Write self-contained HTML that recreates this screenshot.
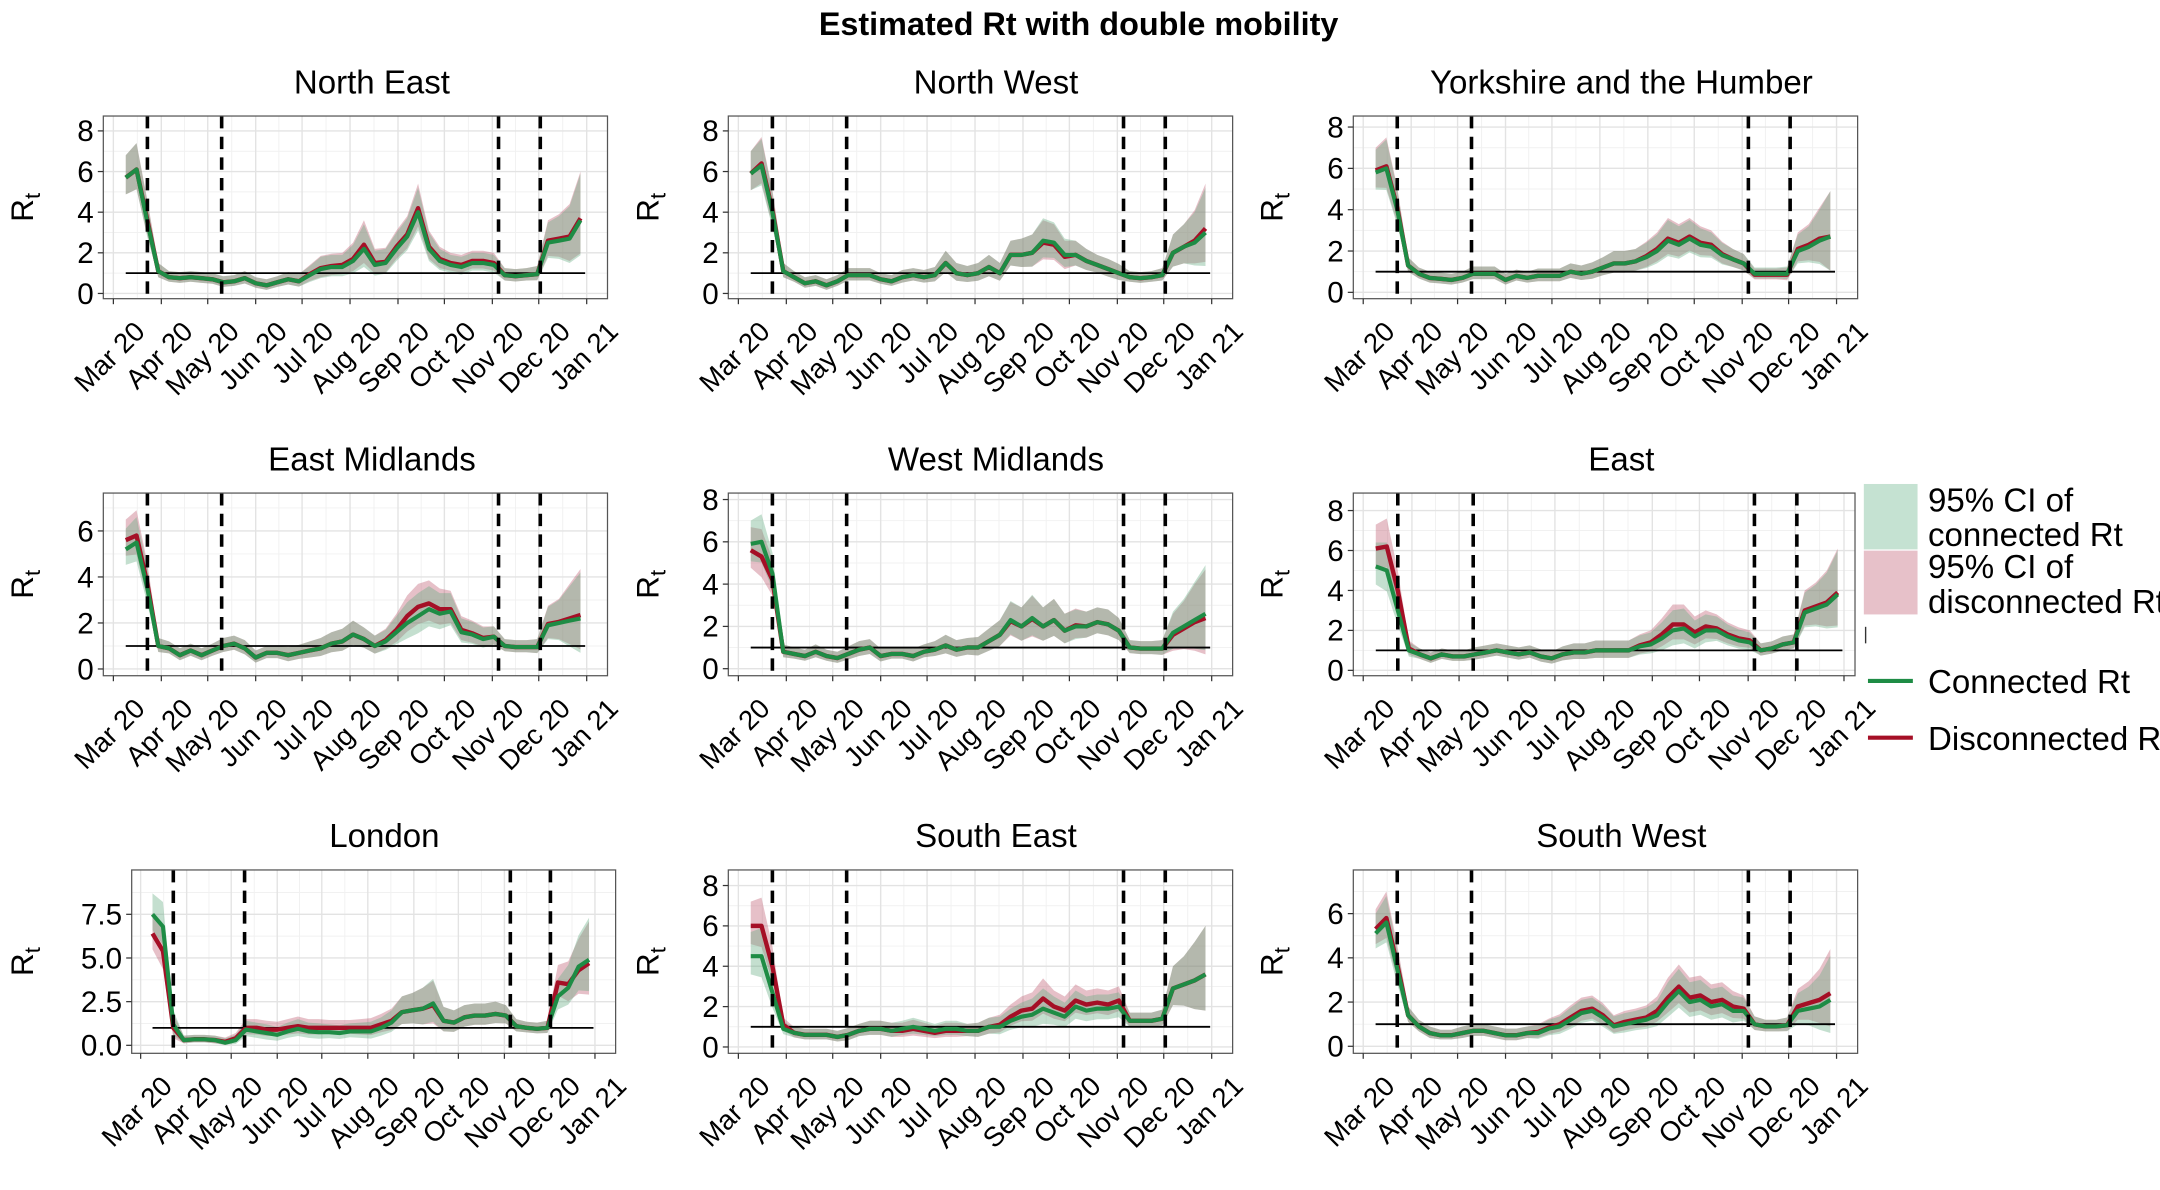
<!DOCTYPE html>
<html><head><meta charset="utf-8"><title>Estimated Rt with double mobility</title>
<style>
html,body{margin:0;padding:0;background:#fff;}
svg{display:block;font-family:"Liberation Sans",Arial,sans-serif;}
</style></head>
<body>
<svg id="chart" xmlns="http://www.w3.org/2000/svg" width="2160" height="1190" viewBox="0 0 1568 863.8">
<rect x="0" y="0" width="1568" height="863.8" fill="#fff"/>
<text x="783" y="25.4" text-anchor="middle" font-weight="bold" font-size="23.5">Estimated Rt with double mobility</text>
<g id="panels"></g>
<g id="legend">
  <rect x="1353" y="351.3" width="39" height="47.5" fill="#c5e2d2"/>
  <rect x="1353" y="399.7" width="39" height="46.3" fill="#e7c1c9"/>
  <text x="1399.6" y="371.4" font-size="24">95% CI of</text>
  <text x="1399.6" y="396.3" font-size="24">connected Rt</text>
  <text x="1399.6" y="419.6" font-size="24">95% CI of</text>
  <text x="1399.6" y="445" font-size="24">disconnected Rt</text>
  <line x1="1354.3" y1="455" x2="1354.3" y2="467" stroke="#333" stroke-width="1"/>
  <line x1="1356" y1="494.3" x2="1388.6" y2="494.3" stroke="#1e8c45" stroke-width="3"/>
  <text x="1399.6" y="503" font-size="24">Connected Rt</text>
  <line x1="1356" y1="535.5" x2="1388.6" y2="535.5" stroke="#a50f26" stroke-width="3"/>
  <text x="1399.6" y="544.4" font-size="24">Disconnected Rt</text>
</g>
</svg>
<script>
// ---- data ----
const weekDays = [8,15,22,29,36,43,50,57,64,71,78,85,92,99,106,113,120,127,134,141,148,155,162,169,176,183,190,197,204,211,218,225,232,239,246,253,260,267,274,281,288,295,302];
const monthLabels = ["Mar 20","Apr 20","May 20","Jun 20","Jul 20","Aug 20","Sep 20","Oct 20","Nov 20","Dec 20","Jan 21"];
const monthDays = [0,31,61,92,122,153,184,214,245,275,306];
const interventionDays = [22,70,249,276];
const thresholdValue = 1;
const thresholdDays = [8,305];

const ticksStd = [0,2,4,6,8];
const ticksSix = [0,2,4,6];
const ticksLondon = [0,2.5,5,7.5];
const tickLabelsLondon = ["0.0","2.5","5.0","7.5"];

const neConn = [5.7,6.1,3.5,1.1,0.8,0.75,0.8,0.75,0.7,0.55,0.6,0.75,0.5,0.4,0.55,0.7,0.6,0.9,1.2,1.3,1.3,1.6,2.2,1.4,1.5,2.2,2.8,4.0,2.2,1.6,1.4,1.3,1.5,1.5,1.4,0.9,0.85,0.9,0.95,2.5,2.6,2.7,3.6];
const neDisc = [5.7,6.1,3.6,1.1,0.8,0.75,0.8,0.75,0.7,0.55,0.6,0.75,0.5,0.4,0.55,0.7,0.6,0.95,1.25,1.35,1.4,1.7,2.4,1.5,1.55,2.3,2.9,4.2,2.3,1.7,1.5,1.4,1.6,1.6,1.5,0.9,0.85,0.9,0.95,2.6,2.7,2.8,3.7];
const neCi = [1.1,1.3,1.0,0.4,0.3,0.3,0.3,0.3,0.3,0.3,0.3,0.35,0.3,0.3,0.3,0.35,0.35,0.45,0.6,0.6,0.6,0.8,1.2,0.7,0.7,0.8,0.9,1.2,0.8,0.6,0.5,0.5,0.5,0.5,0.5,0.35,0.35,0.35,0.4,1.0,1.2,1.6,2.3];

const nwConn = [5.9,6.3,4.0,1.1,0.8,0.5,0.6,0.4,0.6,0.9,0.9,0.9,0.7,0.6,0.8,0.9,0.8,0.9,1.5,1.0,0.9,1.0,1.3,1.0,1.9,1.9,2.0,2.6,2.5,1.9,1.9,1.6,1.4,1.2,1.0,0.8,0.75,0.8,0.9,2.0,2.3,2.5,3.0];
const nwDisc = [5.9,6.4,4.1,1.1,0.8,0.5,0.6,0.4,0.6,0.9,0.9,0.9,0.7,0.6,0.8,0.9,0.8,0.9,1.5,1.0,0.9,1.0,1.3,1.0,1.9,1.9,2.0,2.5,2.4,1.8,1.9,1.6,1.4,1.2,1.0,0.8,0.75,0.8,0.9,2.0,2.3,2.6,3.2];
const nwCi = [1.1,1.3,1.0,0.4,0.3,0.3,0.3,0.3,0.3,0.35,0.35,0.35,0.3,0.3,0.35,0.35,0.35,0.4,0.6,0.5,0.45,0.5,0.6,0.5,0.7,0.8,0.9,1.1,1.0,0.8,0.7,0.6,0.5,0.5,0.45,0.3,0.3,0.3,0.35,0.9,1.1,1.5,2.2];

const yhConn = [5.8,6.0,4.0,1.3,0.9,0.7,0.65,0.6,0.7,0.9,0.9,0.9,0.6,0.8,0.7,0.8,0.8,0.8,1.0,0.9,1.0,1.2,1.4,1.4,1.5,1.7,2.0,2.5,2.3,2.6,2.3,2.2,1.8,1.6,1.4,0.9,0.9,0.9,0.9,2.0,2.2,2.5,2.7];
const yhDisc = [5.9,6.1,4.1,1.3,0.9,0.7,0.65,0.6,0.7,0.9,0.9,0.9,0.6,0.8,0.7,0.8,0.8,0.8,1.0,0.9,1.0,1.2,1.4,1.4,1.5,1.75,2.1,2.6,2.4,2.7,2.4,2.3,1.85,1.6,1.4,0.85,0.85,0.85,0.85,2.1,2.3,2.6,2.7];
const yhCi = [1.1,1.4,1.0,0.4,0.3,0.3,0.3,0.3,0.3,0.35,0.35,0.35,0.3,0.3,0.3,0.35,0.35,0.35,0.4,0.4,0.45,0.5,0.6,0.6,0.6,0.7,0.8,1.0,0.9,0.9,0.8,0.7,0.6,0.5,0.45,0.3,0.3,0.3,0.35,0.8,1.0,1.5,2.2];

const emConn = [5.2,5.5,3.5,1.0,0.9,0.6,0.8,0.6,0.8,1.0,1.1,0.9,0.5,0.7,0.7,0.6,0.7,0.8,0.9,1.1,1.2,1.5,1.3,1.0,1.2,1.6,2.0,2.3,2.6,2.4,2.5,1.6,1.5,1.3,1.4,1.0,0.95,0.95,0.95,1.9,2.0,2.1,2.2];
const emDisc = [5.6,5.8,3.7,1.0,0.9,0.6,0.8,0.6,0.8,1.0,1.1,0.9,0.5,0.7,0.7,0.6,0.7,0.8,0.9,1.1,1.2,1.5,1.3,1.0,1.25,1.7,2.3,2.7,2.85,2.6,2.6,1.7,1.55,1.35,1.4,1.0,0.95,0.95,0.95,1.95,2.05,2.2,2.35];
const emCi = [0.9,1.1,0.9,0.35,0.3,0.3,0.3,0.3,0.3,0.35,0.35,0.35,0.3,0.3,0.3,0.35,0.35,0.4,0.45,0.5,0.55,0.6,0.5,0.45,0.5,0.7,0.9,1.0,1.0,0.9,0.8,0.6,0.55,0.5,0.45,0.3,0.3,0.3,0.35,0.8,1.0,1.5,2.0];

const wmConn = [5.9,6.0,4.5,0.8,0.7,0.6,0.8,0.6,0.5,0.7,0.9,1.0,0.6,0.7,0.7,0.6,0.8,0.9,1.1,0.9,1.0,1.0,1.3,1.6,2.3,2.0,2.4,2.0,2.3,1.8,2.0,2.0,2.2,2.1,1.8,1.0,0.95,0.95,0.95,1.7,2.0,2.3,2.6];
const wmDisc = [5.6,5.3,4.2,0.8,0.7,0.6,0.8,0.6,0.5,0.7,0.9,1.0,0.6,0.7,0.7,0.6,0.8,0.9,1.1,0.9,1.0,1.0,1.3,1.6,2.25,2.0,2.35,2.0,2.3,1.8,2.05,2.0,2.2,2.1,1.8,1.0,0.95,0.95,0.95,1.6,1.9,2.2,2.4];
const wmCi = [1.1,1.3,1.0,0.35,0.3,0.3,0.35,0.3,0.3,0.35,0.4,0.4,0.35,0.3,0.3,0.35,0.35,0.4,0.5,0.45,0.45,0.5,0.6,0.7,0.9,0.9,1.1,0.9,1.0,0.8,0.8,0.7,0.7,0.7,0.6,0.35,0.35,0.35,0.4,1.0,1.3,1.8,2.3];

const eaConn = [5.2,5.0,3.0,1.0,0.8,0.6,0.8,0.7,0.7,0.8,0.9,1.0,0.9,0.8,0.9,0.7,0.6,0.8,0.9,0.9,1.0,1.0,1.0,1.0,1.2,1.3,1.6,2.0,2.1,1.7,2.0,2.0,1.7,1.5,1.4,1.0,1.1,1.3,1.4,2.9,3.1,3.3,3.8];
const eaDisc = [6.1,6.2,4.0,1.1,0.8,0.6,0.8,0.7,0.7,0.8,0.9,1.0,0.9,0.8,0.9,0.7,0.6,0.8,0.9,0.9,1.0,1.0,1.0,1.0,1.25,1.4,1.8,2.3,2.3,1.9,2.2,2.1,1.8,1.6,1.5,1.0,1.1,1.3,1.4,3.0,3.2,3.4,3.9];
const eaCi = [1.2,1.4,1.0,0.4,0.3,0.3,0.3,0.3,0.3,0.35,0.35,0.35,0.35,0.35,0.35,0.35,0.35,0.4,0.45,0.45,0.5,0.5,0.5,0.5,0.55,0.6,0.8,1.0,1.0,0.8,0.8,0.7,0.6,0.55,0.5,0.35,0.35,0.4,0.4,1.0,1.2,1.6,2.2];

const loConn = [7.5,6.8,1.2,0.3,0.35,0.35,0.3,0.15,0.3,0.9,0.8,0.7,0.6,0.8,0.95,0.8,0.75,0.75,0.7,0.8,0.8,0.8,1.0,1.3,1.9,2.0,2.1,2.4,1.4,1.3,1.6,1.7,1.7,1.8,1.7,1.1,1.0,0.95,1.0,2.8,3.3,4.5,4.9];
const loDisc = [6.4,5.4,1.0,0.3,0.35,0.35,0.3,0.2,0.4,1.0,1.0,0.9,0.9,1.0,1.1,1.0,1.0,1.0,1.0,1.0,1.0,1.0,1.2,1.4,1.9,2.0,2.1,2.3,1.4,1.3,1.6,1.7,1.7,1.8,1.7,1.1,1.0,0.95,1.0,3.6,3.5,4.3,4.7];
const loCi = [1.2,1.4,0.8,0.25,0.25,0.25,0.25,0.25,0.3,0.5,0.5,0.5,0.45,0.5,0.55,0.5,0.5,0.45,0.45,0.45,0.5,0.55,0.6,0.7,0.9,1.0,1.2,1.4,0.8,0.7,0.7,0.7,0.7,0.7,0.6,0.4,0.35,0.35,0.4,1.0,1.3,1.8,2.4];

const seConn = [4.5,4.5,2.7,0.9,0.7,0.6,0.6,0.6,0.5,0.6,0.8,0.9,0.9,0.8,0.9,1.0,0.9,0.8,0.9,0.9,0.8,0.8,1.0,1.0,1.3,1.5,1.6,1.9,1.7,1.5,2.0,1.8,1.9,1.9,2.0,1.3,1.3,1.3,1.4,2.9,3.1,3.3,3.6];
const seDisc = [6.0,6.0,4.0,1.1,0.7,0.6,0.6,0.6,0.5,0.6,0.8,0.9,0.9,0.8,0.8,0.9,0.8,0.7,0.8,0.8,0.8,0.8,1.0,1.1,1.5,1.8,1.9,2.4,2.0,1.8,2.3,2.1,2.2,2.1,2.3,1.3,1.3,1.3,1.4,2.9,3.1,3.3,3.6];
const seCi = [1.2,1.4,1.0,0.35,0.3,0.3,0.3,0.3,0.3,0.35,0.35,0.4,0.4,0.4,0.4,0.45,0.4,0.35,0.4,0.4,0.35,0.4,0.45,0.5,0.6,0.7,0.8,1.0,0.8,0.7,0.8,0.7,0.7,0.7,0.7,0.4,0.4,0.4,0.45,1.1,1.4,1.9,2.4];

const swConn = [5.1,5.6,3.5,1.4,0.9,0.6,0.5,0.5,0.6,0.7,0.7,0.6,0.5,0.5,0.6,0.6,0.8,0.9,1.2,1.5,1.6,1.3,0.9,1.0,1.1,1.2,1.4,2.0,2.5,2.0,2.1,1.8,1.9,1.6,1.6,1.0,0.9,0.9,0.95,1.6,1.7,1.8,2.1];
const swDisc = [5.3,5.8,3.7,1.4,0.9,0.6,0.5,0.5,0.6,0.7,0.7,0.6,0.5,0.5,0.6,0.65,0.85,1.0,1.3,1.6,1.7,1.4,0.95,1.1,1.2,1.3,1.6,2.2,2.7,2.2,2.3,2.0,2.1,1.8,1.7,1.0,0.9,0.9,0.95,1.8,1.95,2.1,2.4];
const swCi = [0.9,1.2,0.9,0.4,0.3,0.3,0.25,0.25,0.3,0.3,0.3,0.3,0.3,0.3,0.3,0.35,0.4,0.45,0.55,0.6,0.6,0.55,0.45,0.5,0.5,0.55,0.65,0.9,1.0,0.9,0.9,0.8,0.8,0.7,0.6,0.35,0.3,0.3,0.35,0.8,1.0,1.4,2.0];

// ---- layout (positions only) ----
const panels = [
 {key:"north-east", title:"North East", conn:neConn, disc:neDisc, ci:neCi, ticks:ticksStd, x0:75, x1:441, mar:82.3, jan:425.9, top:84.2, bot:216.8, y0:213, u:14.75, yt:17, tc:270},
 {key:"north-west", title:"North West", conn:nwConn, disc:nwDisc, ci:nwCi, ticks:ticksStd, x0:528.7, x1:894.8, mar:536, jan:879.6, top:84.2, bot:216.8, y0:213, u:14.75, yt:471, tc:723},
 {key:"yorkshire", title:"Yorkshire and the Humber", conn:yhConn, disc:yhDisc, ci:yhCi, ticks:ticksStd, x0:982.4, x1:1348.5, mar:989.6, jan:1333.2, top:84.2, bot:216.8, y0:212.2, u:15.0, yt:924, tc:1177},
 {key:"east-midlands", title:"East Midlands", conn:emConn, disc:emDisc, ci:emCi, ticks:ticksSix, x0:75, x1:441, mar:82.3, jan:425.9, top:357.9, bot:490.5, y0:485.6, u:16.7, yt:17, tc:270},
 {key:"west-midlands", title:"West Midlands", conn:wmConn, disc:wmDisc, ci:wmCi, ticks:ticksStd, x0:528.7, x1:894.8, mar:536, jan:879.6, top:357.9, bot:490.5, y0:485.4, u:15.35, yt:471, tc:723},
 {key:"east", title:"East", conn:eaConn, disc:eaDisc, ci:eaCi, ticks:ticksStd, x0:982.4, x1:1346.6, mar:989.6, jan:1338.6, top:357.9, bot:490.5, y0:486.6, u:14.5, yt:924, tc:1177},
 {key:"london", title:"London", conn:loConn, disc:loDisc, ci:loCi, ticks:ticksLondon, tl:tickLabelsLondon, x0:95.6, x1:446.9, mar:102.1, jan:431.9, top:631.5, bot:764.6, y0:758.8, u:12.68, yt:17, tc:279},
 {key:"south-east", title:"South East", conn:seConn, disc:seDisc, ci:seCi, ticks:ticksStd, x0:528.7, x1:894.8, mar:536, jan:879.6, top:631.5, bot:764.6, y0:760, u:14.65, yt:471, tc:723},
 {key:"south-west", title:"South West", conn:swConn, disc:swDisc, ci:swCi, ticks:ticksSix, x0:982.4, x1:1348.5, mar:989.6, jan:1333.2, top:631.5, bot:764.6, y0:759.5, u:16.05, yt:924, tc:1177}
];

const NS = "http://www.w3.org/2000/svg";
function mk(tag, attrs, parent){
  const e = document.createElementNS(NS, tag);
  for (const k in attrs) e.setAttribute(k, attrs[k]);
  parent.appendChild(e);
  return e;
}
const root = document.getElementById("panels");

panels.forEach(p => {
  const g = mk("g", {}, root);
  
  
  const xs = d => p.mar + (d / 306) * (p.jan - p.mar);
  const ys = v => p.y0 - v * p.u;
  const clampY = y => Math.max(p.top, Math.min(p.bot, y));

  const bg = mk("rect", {x:p.x0, y:p.top, width:p.x1-p.x0, height:p.bot-p.top, fill:"#fff"}, g);
  
  

  const grid = mk("g", {}, g);
  
  
  for (let i = 0; i < monthDays.length - 1; i++) {
    const xm = xs((monthDays[i] + monthDays[i+1]) / 2);
    mk("line", {x1:xm, x2:xm, y1:p.top, y2:p.bot, stroke:"#f1f1f1", "stroke-width":0.7}, grid);
  }
  const step = p.ticks[1] - p.ticks[0];
  for (let v = p.ticks[0] - step/2; ys(v) > p.top; v += step) {
    if (ys(v) < p.bot) mk("line", {x1:p.x0, x2:p.x1, y1:ys(v), y2:ys(v), stroke:"#f1f1f1", "stroke-width":0.7}, grid);
  }
  monthDays.forEach(d => mk("line", {x1:xs(d), x2:xs(d), y1:p.top, y2:p.bot, stroke:"#e3e3e3", "stroke-width":1}, grid));
  p.ticks.forEach(v => mk("line", {x1:p.x0, x2:p.x1, y1:ys(v), y2:ys(v), stroke:"#e3e3e3", "stroke-width":1}, grid));

  function bandPath(center){
    let up = [], lo = [];
    weekDays.forEach((d, i) => {
      up.push(xs(d).toFixed(1) + "," + clampY(ys(center[i] + p.ci[i])).toFixed(1));
      lo.push(xs(d).toFixed(1) + "," + clampY(ys(Math.max(0.02, center[i] - p.ci[i] * 0.75))).toFixed(1));
    });
    return "M" + up.join("L") + "L" + lo.reverse().join("L") + "Z";
  }
  function linePath(vals){
    return "M" + weekDays.map((d, i) => xs(d).toFixed(1) + "," + ys(vals[i]).toFixed(1)).join("L");
  }
  const bd = mk("path", {d:bandPath(p.disc), fill:"rgb(190,90,110)", "fill-opacity":0.38}, g);
  
  
  const bc = mk("path", {d:bandPath(p.conn), fill:"rgb(100,170,130)", "fill-opacity":0.38}, g);
  
  

  const th = mk("line", {x1:xs(thresholdDays[0]), x2:xs(thresholdDays[1]), y1:ys(thresholdValue), y2:ys(thresholdValue), stroke:"#000", "stroke-width":1.3}, g);
  
  

  const ld = mk("path", {d:linePath(p.disc), fill:"none", stroke:"#a50f26", "stroke-width":3.2, "stroke-linejoin":"round"}, g);
  
  
  const lc = mk("path", {d:linePath(p.conn), fill:"none", stroke:"#1e8c45", "stroke-width":3, "stroke-linejoin":"round"}, g);
  
  

  interventionDays.forEach(d => {
    const vl = mk("line", {x1:xs(d), x2:xs(d), y1:p.top, y2:p.bot, stroke:"#000", "stroke-width":2.6, "stroke-dasharray":"9,6"}, g);
    
    
  });

  const border = mk("rect", {x:p.x0, y:p.top, width:p.x1-p.x0, height:p.bot-p.top, fill:"none", stroke:"#555", "stroke-width":0.9}, g);
  
  

  p.ticks.forEach((v, i) => {
    mk("line", {x1:p.x0-4, x2:p.x0, y1:ys(v), y2:ys(v), stroke:"#333", "stroke-width":0.9}, g);
    const t = mk("text", {x:p.x0-7, y:ys(v)+7.5, "text-anchor":"end", "font-size":21.5}, g);
    t.textContent = p.tl ? p.tl[i] : String(v);
    
    
  });
  monthDays.forEach((d, i) => {
    mk("line", {x1:xs(d), x2:xs(d), y1:p.bot, y2:p.bot+4, stroke:"#333", "stroke-width":0.9}, g);
    const tx = xs(d) + 24, ty = p.bot + 25;
    const t = mk("text", {x:tx, y:ty, "text-anchor":"end", "font-size":20, transform:"rotate(-45 " + tx + " " + ty + ")"}, g);
    t.textContent = monthLabels[i];
    
    
  });
  const tt = mk("text", {x:p.tc, y:p.top-16.5, "text-anchor":"middle", "font-size":24}, g);
  tt.textContent = p.title;
  
  
  const cy = (p.top + p.bot) / 2;
  const yt = mk("text", {x:p.yt + 7, y:cy, "text-anchor":"middle", "font-size":23, transform:"rotate(-90 " + (p.yt + 7) + " " + cy + ")"}, g);
  
  
  yt.appendChild(document.createTextNode("R"));
  const sub = document.createElementNS(NS, "tspan");
  sub.setAttribute("font-size", "16");
  sub.setAttribute("dy", "5");
  sub.textContent = "t";
  yt.appendChild(sub);
});
</script>
</body></html>
